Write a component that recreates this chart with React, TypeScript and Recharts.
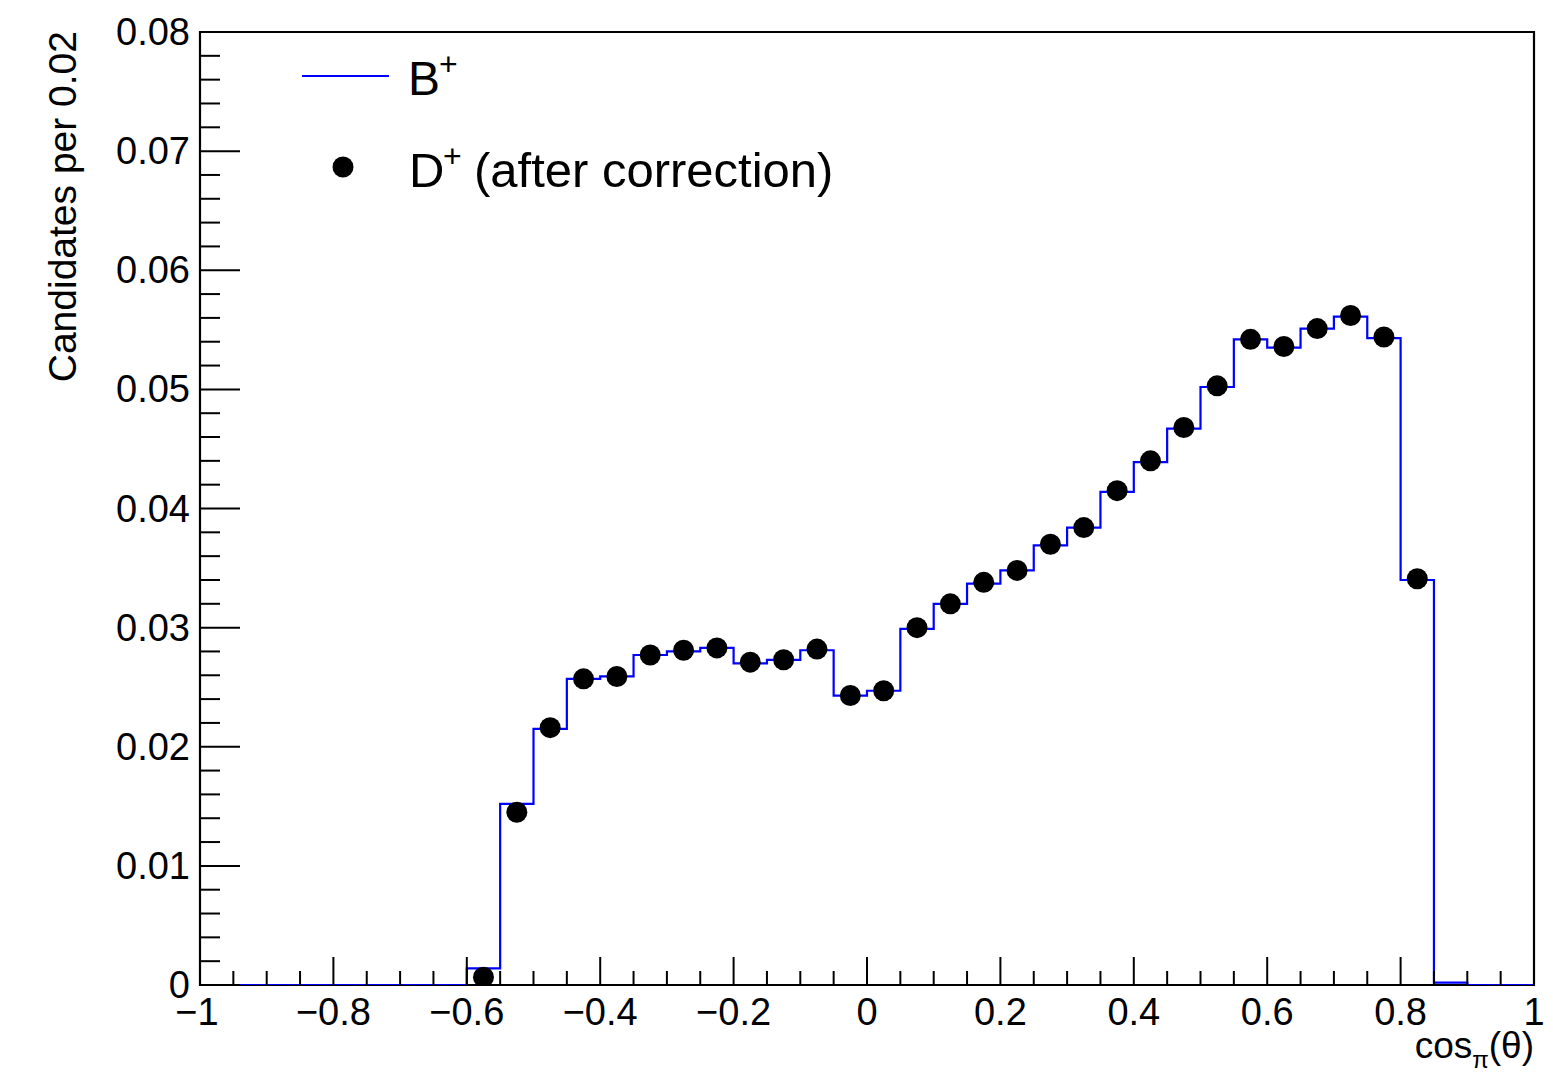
import { ComposedChart, Line, Scatter, XAxis, YAxis, ReferenceArea, Legend } from "recharts"

if (typeof document !== "undefined") document.body.style.margin = "0"

const FONT = '"Liberation Sans", Arial, Helvetica, sans-serif'

// histogram bin edges (B+), 40 bins of 0.05
const binEdges = [
  -1, -0.95, -0.9, -0.85, -0.8, -0.75, -0.7, -0.65, -0.6, -0.55,
  -0.5, -0.45, -0.4, -0.35, -0.3, -0.25, -0.2, -0.15, -0.1, -0.05,
  0, 0.05, 0.1, 0.15, 0.2, 0.25, 0.3, 0.35, 0.4, 0.45,
  0.5, 0.55, 0.6, 0.65, 0.7, 0.75, 0.8, 0.85, 0.9, 0.95, 1,
]

const bPlus = [
  0, 0, 0, 0, 0, 0, 0, 0, 0.0014, 0.0152,
  0.0215, 0.0257, 0.0259, 0.0277, 0.0280, 0.0283, 0.0270, 0.0273, 0.0281, 0.0243,
  0.0247, 0.0299, 0.0320, 0.0337, 0.0348, 0.0369, 0.0384, 0.0414, 0.0439, 0.0467,
  0.0502, 0.0542, 0.0535, 0.0551, 0.0561, 0.0543, 0.0340, 0.0002, 0, 0,
]

// D+ points at bin centres
const dCenters = [
  -0.575, -0.525, -0.475, -0.425, -0.375, -0.325, -0.275, -0.225, -0.175, -0.125,
  -0.075, -0.025, 0.025, 0.075, 0.125, 0.175, 0.225, 0.275, 0.325, 0.375,
  0.425, 0.475, 0.525, 0.575, 0.625, 0.675, 0.725, 0.775, 0.825,
]

const dPlus = [
  0.00065, 0.0145, 0.0216, 0.0257, 0.0259, 0.0277, 0.0281, 0.0283, 0.0271, 0.0273,
  0.0282, 0.0243, 0.0247, 0.0300, 0.0320, 0.0338, 0.0348, 0.0370, 0.0384, 0.0415,
  0.0440, 0.0468, 0.0503, 0.0542, 0.0536, 0.0551, 0.0562, 0.0544, 0.0341,
]

const xMajor = [-1, -0.8, -0.6, -0.4, -0.2, 0, 0.2, 0.4, 0.6, 0.8, 1]
const xLabels = ["\u22121", "\u22120.8", "\u22120.6", "\u22120.4", "\u22120.2", "0", "0.2", "0.4", "0.6", "0.8", "1"]
const yMajor = [0, 0.01, 0.02, 0.03, 0.04, 0.05, 0.06, 0.07, 0.08]
const yLabels = ["0", "0.01", "0.02", "0.03", "0.04", "0.05", "0.06", "0.07", "0.08"]

const xTicks = Array.from({ length: 41 }, (_, i) => +(-1 + i * 0.05).toFixed(3))
const yTicks = Array.from({ length: 41 }, (_, i) => +(i * 0.002).toFixed(4))

const histData = binEdges.map((x, i) => ({ x, v: bPlus[Math.min(i, bPlus.length - 1)] }))
const pointData = dCenters.map((x, i) => ({ x, y: dPlus[i] }))

const findMajor = (arr: number[], v: number) => arr.findIndex((m) => Math.abs(m - v) < 1e-6)

const XTick = (props: any) => {
  const { x, y, payload } = props
  const idx = findMajor(xMajor, payload.value)
  const len = idx >= 0 ? 28 : 14
  return (
    <g>
      <line x1={x} x2={x} y1={y} y2={y - len} stroke="#000" strokeWidth={2} />
      {idx >= 0 && (
        <text x={idx === 0 ? x - 3 : x} y={y + 40} textAnchor="middle" fontSize={38} fontFamily={FONT} fill="#000">
          {xLabels[idx]}
        </text>
      )}
    </g>
  )
}

const YTick = (props: any) => {
  const { x, y, payload } = props
  const idx = findMajor(yMajor, payload.value)
  const len = idx >= 0 ? 40 : 20
  return (
    <g>
      <line x1={x} x2={x + len} y1={y} y2={y} stroke="#000" strokeWidth={2} />
      {idx >= 0 && (
        <text x={x - 10} y={y + 13} textAnchor="end" fontSize={38} fontFamily={FONT} fill="#000">
          {yLabels[idx]}
        </text>
      )}
    </g>
  )
}

const Dot = (props: any) => <circle cx={props.cx} cy={props.cy} r={10.5} fill="#000" />

const LegendBox = () => (
  <svg width={900} height={220} style={{ display: "block" }}>
    <line x1={302} x2={389} y1={76} y2={76} stroke="#0000ff" strokeWidth={2} />
    <text x={408} y={95} fontSize={48} fontFamily={FONT} fill="#000">
      B
      <tspan x={439} dy={-20} fontSize={32}>+</tspan>
    </text>
    <circle cx={343} cy={167} r={10.5} fill="#000" />
    <text x={409} y={187} fontSize={49} fontFamily={FONT} fill="#000">
      D
      <tspan x={443} dy={-20} fontSize={32}>+</tspan>
      <tspan x={474} dy={20}>(after correction)</tspan>
    </text>
  </svg>
)

export default function App() {
  return (
    <div style={{ width: 1553, height: 1083, background: "#fff", fontFamily: FONT }}>
      <ComposedChart width={1553} height={1083} margin={{ top: 32, right: 19, left: 140, bottom: 58 }}>
        <XAxis
          dataKey="x"
          type="number"
          domain={[-1, 1]}
          ticks={xTicks}
          interval={0}
          height={40}
          tickSize={0}
          tickMargin={0}
          axisLine={false}
          tickLine={false}
          tick={<XTick />}
          allowDataOverflow
          label={{
            content: () => (
              <text x={1534} y={1058} textAnchor="end" fontSize={37} fontFamily={FONT} fill="#000">
                cos
                <tspan dy={10} fontSize={24}>π</tspan>
                <tspan dy={-10}>(θ)</tspan>
              </text>
            ),
          }}
        />
        <YAxis
          type="number"
          domain={[0, 0.08]}
          ticks={yTicks}
          interval={0}
          width={60}
          tickSize={0}
          tickMargin={0}
          axisLine={false}
          tickLine={false}
          tick={<YTick />}
          allowDataOverflow
          label={{
            content: () => (
              <text
                x={76}
                y={31}
                transform="rotate(-90 76 31)"
                textAnchor="end"
                fontSize={39}
                fontFamily={FONT}
                fill="#000"
              >
                Candidates per 0.02
              </text>
            ),
          }}
        />
        <Line
          data={histData}
          dataKey="v"
          name="B+"
          type="stepAfter"
          stroke="#0000ff"
          strokeWidth={2.2}
          dot={false}
          activeDot={false}
          isAnimationActive={false}
        />
        <Scatter
          data={pointData}
          dataKey="y"
          name="D+ (after correction)"
          fill="#000"
          shape={<Dot />}
          isAnimationActive={false}
        />
        <ReferenceArea x1={-1} x2={1} y1={0} y2={0.08} fill="none" stroke="#000" strokeWidth={2.2} />
        <Legend
          layout="horizontal"
          verticalAlign="middle"
          align="center"
          wrapperStyle={{ left: 0, top: 0, width: 900, height: 220, pointerEvents: "none" }}
          content={() => <LegendBox />}
        />
      </ComposedChart>
    </div>
  )
}
